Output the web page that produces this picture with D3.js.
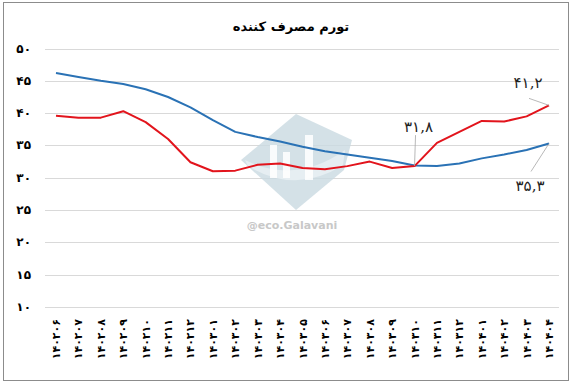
<!DOCTYPE html>
<html>
<head>
<meta charset="utf-8">
<script src="https://cdn.jsdelivr.net/npm/d3@7"></script>
<style>
  body { margin: 0; background: #fff; }
  svg { display: block; font-family: "DejaVu Sans", sans-serif; }
</style>
</head>
<body>
<div id="chart"></div>
<script>
// months on the x axis (solar hijri, yyyymm)
const months = ['۱۴۰۲۰۶', '۱۴۰۲۰۷', '۱۴۰۲۰۸', '۱۴۰۲۰۹', '۱۴۰۲۱۰', '۱۴۰۲۱۱', '۱۴۰۲۱۲',
    '۱۴۰۳۰۱', '۱۴۰۳۰۲', '۱۴۰۳۰۳', '۱۴۰۳۰۴', '۱۴۰۳۰۵', '۱۴۰۳۰۶', '۱۴۰۳۰۷', '۱۴۰۳۰۸',
    '۱۴۰۳۰۹', '۱۴۰۳۱۰', '۱۴۰۳۱۱', '۱۴۰۳۱۲', '۱۴۰۴۰۱', '۱۴۰۴۰۲', '۱۴۰۴۰۳', '۱۴۰۴۰۴'];

// annual (12-month average) inflation - blue
const annualRate = [46.2, 45.6, 45.0, 44.5, 43.7, 42.5, 40.9, 38.9, 37.1, 36.3, 35.6, 34.8,
    34.1, 33.6, 33.1, 32.6, 31.9, 31.8, 32.2, 33.0, 33.6, 34.3, 35.3];

// point-to-point inflation - red
const pointRate = [39.6, 39.3, 39.3, 40.3, 38.6, 36.0, 32.4, 31.0, 31.1, 32.0, 32.2, 31.5,
    31.3, 31.8, 32.5, 31.5, 31.8, 35.4, 37.1, 38.8, 38.7, 39.5, 41.2];

const yTicks = [10, 15, 20, 25, 30, 35, 40, 45, 50];

// labelled values: [series, index, text]
const callouts = [
    { series: 'point', index: 16, text: '۳۱,۸' },
    { series: 'point', index: 22, text: '۴۱,۲' },
    { series: 'annual', index: 22, text: '۳۵,۳' }
];

const title = 'تورم مصرف کننده';
const watermarkText = '@eco.Galavani';

const faDigits = '۰۱۲۳۴۵۶۷۸۹';
const toFa = n => String(n).replace(/\d/g, d => faDigits[+d]);

const width = 573, height = 383;

const svg = d3.select('#chart').append('svg')
    .attr('width', width)
    .attr('height', height);

// outer frame
svg.append('rect')
    .attr('x', 3.5).attr('y', 2.5)
    .attr('width', 565).attr('height', 378)
    .attr('fill', '#fff')
    .attr('stroke', '#8c8c8c');

const x = d3.scalePoint().domain(months).range([56, 549]);
const y = d3.scaleLinear().domain([10, 50]).range([307, 48.5]);

// gridlines
svg.append('g').attr('class', 'grid')
    .selectAll('line')
    .data(yTicks)
    .join('line')
    .attr('x1', 45).attr('x2', 559)
    .attr('y1', d => Math.round(y(d)) + 0.5)
    .attr('y2', d => Math.round(y(d)) + 0.5)
    .attr('stroke', '#d9d9d9');

// watermark
const wm = svg.append('g').attr('class', 'watermark');
wm.append('path')
    .attr('d', 'M296,114 L352,140 L344,170 L296,210 L241,160 Z')
    .attr('fill', '#c9d9e1').attr('opacity', 0.8);
wm.append('path')
    .attr('d', 'M245,160 Q296,185 345,150 L343,165 Q296,195 248,166 Z')
    .attr('fill', '#e6eef2');
[[270, 145, 7, 33], [283, 152, 7, 26], [305, 135, 8, 45]].forEach(b => {
    wm.append('rect')
        .attr('x', b[0]).attr('y', b[1]).attr('width', b[2]).attr('height', b[3])
        .attr('fill', '#fff').attr('opacity', 0.85);
});
wm.append('text')
    .attr('x', 292).attr('y', 229)
    .attr('text-anchor', 'middle')
    .attr('font-size', 11).attr('font-weight', 'bold')
    .attr('fill', '#c8c8c8')
    .text(watermarkText);

// y axis labels
svg.append('g').attr('class', 'y-labels')
    .selectAll('text')
    .data(yTicks)
    .join('text')
    .attr('x', 31)
    .attr('y', d => y(d) + 4)
    .attr('text-anchor', 'end')
    .attr('font-size', 12)
    .attr('font-weight', 'bold')
    .attr('fill', '#000')
    .text(d => toFa(d));

// x axis labels, rotated
svg.append('g').attr('class', 'x-labels')
    .selectAll('text')
    .data(months)
    .join('text')
    .attr('transform', d => `translate(${x(d) + 4},319) rotate(-90)`)
    .attr('text-anchor', 'end')
    .attr('font-size', 11)
    .attr('font-weight', 'bold')
    .attr('fill', '#000')
    .text(d => d);

// lines
const line = d3.line()
    .x((d, i) => x(months[i]))
    .y(d => y(d));

svg.append('path')
    .datum(annualRate)
    .attr('fill', 'none')
    .attr('stroke', '#2a72b5')
    .attr('stroke-width', 2)
    .attr('stroke-linejoin', 'round')
    .attr('d', line);

svg.append('path')
    .datum(pointRate)
    .attr('fill', 'none')
    .attr('stroke', '#e2141c')
    .attr('stroke-width', 2)
    .attr('stroke-linejoin', 'round')
    .attr('d', line);

// callout labels with leader lines
const calloutLayout = {
    '16-point': { dx: 1, dy: -31, ty: -34 },
    '22-point': { dx: -20, dy: -7, ty: -17 },
    '22-annual': { dx: -18, dy: 28, ty: 48 }
};
const cg = svg.append('g').attr('class', 'callouts');
callouts.forEach(c => {
    const vals = c.series === 'point' ? pointRate : annualRate;
    const px = x(months[c.index]);
    const py = y(vals[c.index]);
    const l = calloutLayout[c.index + '-' + c.series];
    cg.append('line')
        .attr('x1', px).attr('y1', py)
        .attr('x2', px + l.dx).attr('y2', py + l.dy)
        .attr('stroke', '#a6a6a6').attr('stroke-width', 0.8);
    cg.append('text')
        .attr('x', px + l.dx + (c.index === 16 ? 3 : -1))
        .attr('y', py + l.ty)
        .attr('text-anchor', 'middle')
        .attr('font-family', '"DejaVu Serif", "DejaVu Sans", serif')
        .attr('font-size', 15)
        .attr('fill', '#222')
        .text(c.text);
});

// title
svg.append('text')
    .attr('x', 291).attr('y', 31)
    .attr('text-anchor', 'middle')
    .attr('font-size', 13)
    .attr('font-weight', 'bold')
    .attr('fill', '#000')
    .text(title);
</script>
</body>
</html>
